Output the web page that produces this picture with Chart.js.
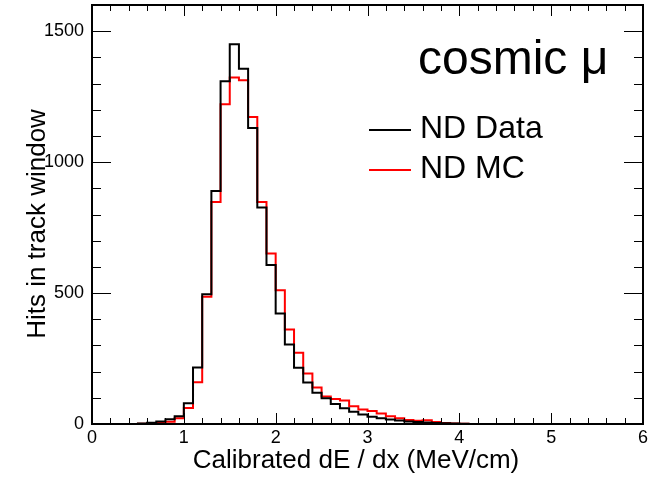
<!DOCTYPE html>
<html>
<head>
<meta charset="utf-8">
<script src="https://cdn.jsdelivr.net/npm/chart.js@4.4.1/dist/chart.umd.min.js"></script>
<style>
  html, body { margin: 0; padding: 0; background: #fff; }
  #wrap { width: 655px; height: 477px; }
</style>
</head>
<body>
<div id="wrap"><canvas id="chart" width="655" height="477"></canvas></div>
<script>
// histogram: 60 bins of 0.1 MeV/cm from 0 to 6
const binWidth = 0.1;
const ndData = [
  0, 0, 0, 0, 0, 2, 5, 10, 18, 30,
  79, 216, 495, 890, 1309, 1450, 1357, 1130, 827, 607,
  422, 304, 215, 158, 119, 98, 76, 60, 47, 36,
  28, 22, 17, 13, 10, 8, 6, 4, 3, 2,
  1, 0, 0, 0, 0, 0, 0, 0, 0, 0,
  0, 0, 0, 0, 0, 0, 0, 0, 0, 0
];
const ndMC = [
  0, 0, 0, 0, 0, 1, 2, 4, 9, 22,
  61, 159, 486, 848, 1221, 1323, 1313, 1172, 848, 651,
  511, 361, 272, 193, 139, 105, 95, 90, 68, 55,
  50, 40, 30, 22, 15, 12, 14, 8, 4, 2,
  1, 0, 0, 0, 0, 0, 0, 0, 0, 0,
  0, 0, 0, 0, 0, 0, 0, 0, 0, 0
];
const xTicks = [0, 1, 2, 3, 4, 5, 6];
const yTicks = [0, 500, 1000, 1500];

// bin i spans [i*w, (i+1)*w]; stepped 'before' holds each value until the next edge
function toSteps(vals) {
  const pts = vals.map((v, i) => ({ x: +(i * binWidth).toFixed(1), y: v }));
  pts.push({ x: vals.length * binWidth, y: vals[vals.length - 1] });
  return pts;
}

const FONT = "'Liberation Sans', Arial, sans-serif";

const frame = {
  id: 'frame',
  afterDatasetsDraw(chart) {
    const { ctx, chartArea: a, scales: { x, y } } = chart;
    ctx.save();
    ctx.strokeStyle = '#000';
    ctx.lineWidth = 1;
    // x ticks every 0.2, major at integers
    for (let i = 0; i <= 30; i++) {
      const px = Math.round(x.getPixelForValue(i * 0.2)) + 0.5;
      const len = (i % 5 === 0) ? 11 : 6;
      ctx.beginPath();
      ctx.moveTo(px, a.bottom); ctx.lineTo(px, a.bottom - len);
      ctx.moveTo(px, a.top); ctx.lineTo(px, a.top + len);
      ctx.stroke();
    }
    // y ticks every 100, major every 500
    for (let v = 0; v <= 1600; v += 100) {
      const py = Math.round(y.getPixelForValue(v)) + 0.5;
      const len = (v % 500 === 0) ? 19 : 9;
      ctx.beginPath();
      ctx.moveTo(a.left, py); ctx.lineTo(a.left + len, py);
      ctx.moveTo(a.right, py); ctx.lineTo(a.right - len, py);
      ctx.stroke();
    }
    ctx.lineWidth = 2;
    ctx.strokeRect(a.left, a.top, a.right - a.left, a.bottom - a.top);

    // axis titles
    ctx.fillStyle = '#000';
    ctx.font = '26px ' + FONT;
    ctx.textAlign = 'center';
    ctx.textBaseline = 'alphabetic';
    ctx.fillText('Calibrated dE / dx (MeV/cm)', 356, 468);
    ctx.save();
    ctx.translate(45, 224);
    ctx.rotate(-Math.PI / 2);
    ctx.fillText('Hits in track window', 0, 0);
    ctx.restore();

    // label and legend
    ctx.textAlign = 'left';
    ctx.font = '48px ' + FONT;
    ctx.fillText('cosmic \u03bc', 418, 74);
    ctx.font = '32px ' + FONT;
    chart.data.datasets.forEach((ds, i) => {
      const ly = 130 + i * 40;
      ctx.strokeStyle = ds.borderColor;
      ctx.lineWidth = 2;
      ctx.beginPath();
      ctx.moveTo(369, ly); ctx.lineTo(411, ly);
      ctx.stroke();
      ctx.fillText(ds.label, 420, ly + 8);
    });
    ctx.restore();
  }
};

new Chart(document.getElementById('chart'), {
  type: 'line',
  data: {
    datasets: [
      { label: 'ND Data', data: toSteps(ndData), borderColor: '#000', borderWidth: 2,
        stepped: 'before', pointRadius: 0, fill: false, order: 1 },
      { label: 'ND MC', data: toSteps(ndMC), borderColor: '#ff0000', borderWidth: 2,
        stepped: 'before', pointRadius: 0, fill: false, order: 2 }
    ]
  },
  options: {
    responsive: false,
    animation: false,
    layout: { padding: { top: 5, right: 12, left: 0, bottom: 0 } },
    plugins: { legend: { display: false }, tooltip: { enabled: false } },
    scales: {
      x: {
        type: 'linear', min: 0, max: 6,
        grid: { display: false, drawTicks: false }, border: { display: false },
        afterBuildTicks: s => { s.ticks = xTicks.map(v => ({ value: v })); },
        afterFit: s => { s.height = 53; s.paddingLeft = 0; s.paddingRight = 0; },
        ticks: { color: '#000', padding: 3, font: { family: FONT, size: 18 }, maxRotation: 0,
          callback: v => String(v) }
      },
      y: {
        type: 'linear', min: 0, max: 1600,
        grid: { display: false, drawTicks: false }, border: { display: false },
        afterBuildTicks: s => { s.ticks = yTicks.map(v => ({ value: v })); },
        afterFit: s => { s.width = 92; s.paddingTop = 0; s.paddingBottom = 0; },
        ticks: { color: '#000', padding: 8, font: { family: FONT, size: 18 },
          callback: v => String(v) }
      }
    }
  },
  plugins: [frame]
});
</script>
</body>
</html>
